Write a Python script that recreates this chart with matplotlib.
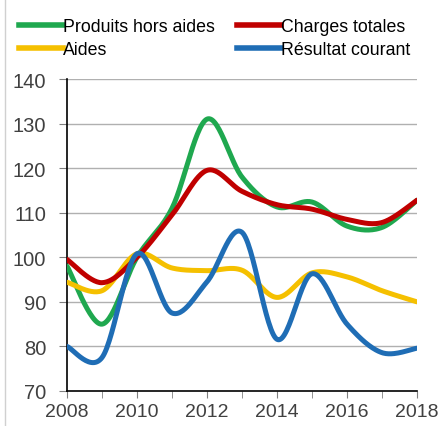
import numpy as np
import matplotlib
matplotlib.use('Agg')
import matplotlib.pyplot as plt
from matplotlib.lines import Line2D

plt.rcParams['font.family'] = ['Liberation Sans', 'DejaVu Sans']

years = [2008, 2009, 2010, 2011, 2012, 2013, 2014, 2015, 2016, 2017, 2018]
produits = [98, 85, 100, 111, 131, 118, 111.3, 112.4, 107, 106.7, 112.8]
charges = [99.5, 94.3, 100, 109.5, 119.5, 114.8, 111.8, 110.8, 108.5, 107.8, 112.8]
aides = [94.4, 92.5, 100.8, 97.6, 97, 97.1, 91, 96.5, 95.6, 92.5, 90]
resultat = [80, 77.5, 100.8, 87.5, 94.5, 105.6, 81.6, 96.3, 85, 78.6, 79.6]

labels = ['Produits hors aides', 'Aides', 'Charges totales', 'Résultat courant']
colors = ['#1fa84f', '#f5c000', '#c00000', '#1f6db5']


def smooth(x, y, n=30):
    # excel style smoothed line: bezier through the points
    x = np.asarray(x, float)
    y = np.asarray(y, float)
    px = np.concatenate([[x[0]], x, [x[-1]]])
    py = np.concatenate([[y[0]], y, [y[-1]]])
    xs, ys = [], []
    t = np.linspace(0, 1, n)
    for i in range(1, len(px) - 2):
        p0 = np.array([px[i], py[i]])
        p3 = np.array([px[i + 1], py[i + 1]])
        p1 = p0 + (p3 - np.array([px[i - 1], py[i - 1]])) / 6
        p2 = p3 - (np.array([px[i + 2], py[i + 2]]) - p0) / 6
        b = ((1 - t) ** 3)[:, None] * p0 + (3 * (1 - t) ** 2 * t)[:, None] * p1 \
            + (3 * (1 - t) * t ** 2)[:, None] * p2 + (t ** 3)[:, None] * p3
        xs.extend(b[:, 0])
        ys.extend(b[:, 1])
    return np.array(xs), np.array(ys)


fig = plt.figure(figsize=(4.38, 4.27), dpi=100)
ax = fig.add_axes([67 / 438, 1 - 392 / 427, 350 / 438, 312 / 427])

series = [produits, aides, charges, resultat]
for i, s in enumerate(series):
    sx, sy = smooth(years, s)
    ax.plot(sx, sy, color=colors[i], lw=3.6, solid_capstyle='round', zorder=3 + i)

ax.set_xlim(2008, 2018)
ax.set_ylim(70, 140)
ax.set_yticks(range(70, 141, 10))
ax.set_xticks(years, minor=True)
ax.set_xticks(range(2008, 2019, 2))
for v in range(80, 141, 10):
    ax.axhline(v, color='#b0b0b0', lw=1, zorder=1)

for s in ['top', 'right']:
    ax.spines[s].set_visible(False)
ax.spines['left'].set_color('black')
ax.spines['bottom'].set_color('black')
ax.spines['left'].set_linewidth(1.2)
ax.spines['bottom'].set_linewidth(1.2)
ax.tick_params(axis='y', length=6, color='#808080', labelsize=14.5, labelcolor='#404040', pad=9)
ax.tick_params(axis='x', which='both', length=5, color='#808080', labelsize=14, labelcolor='#404040', pad=4)

handles = [Line2D([], [], color=c, lw=4) for c in colors]
fig.legend(handles, labels, loc='upper left', bbox_to_anchor=(19 / 438, 1 - 19 / 427),
           ncol=2, frameon=False, fontsize=12.8, handlelength=2.5, handletextpad=0.0,
           columnspacing=1.2, labelspacing=0.35, borderpad=0, borderaxespad=0)

fig.add_artist(Line2D([5 / 438, 5 / 438], [0, 1], color='#d0d0d0', lw=1))

fig.savefig('out.png', dpi=100)
